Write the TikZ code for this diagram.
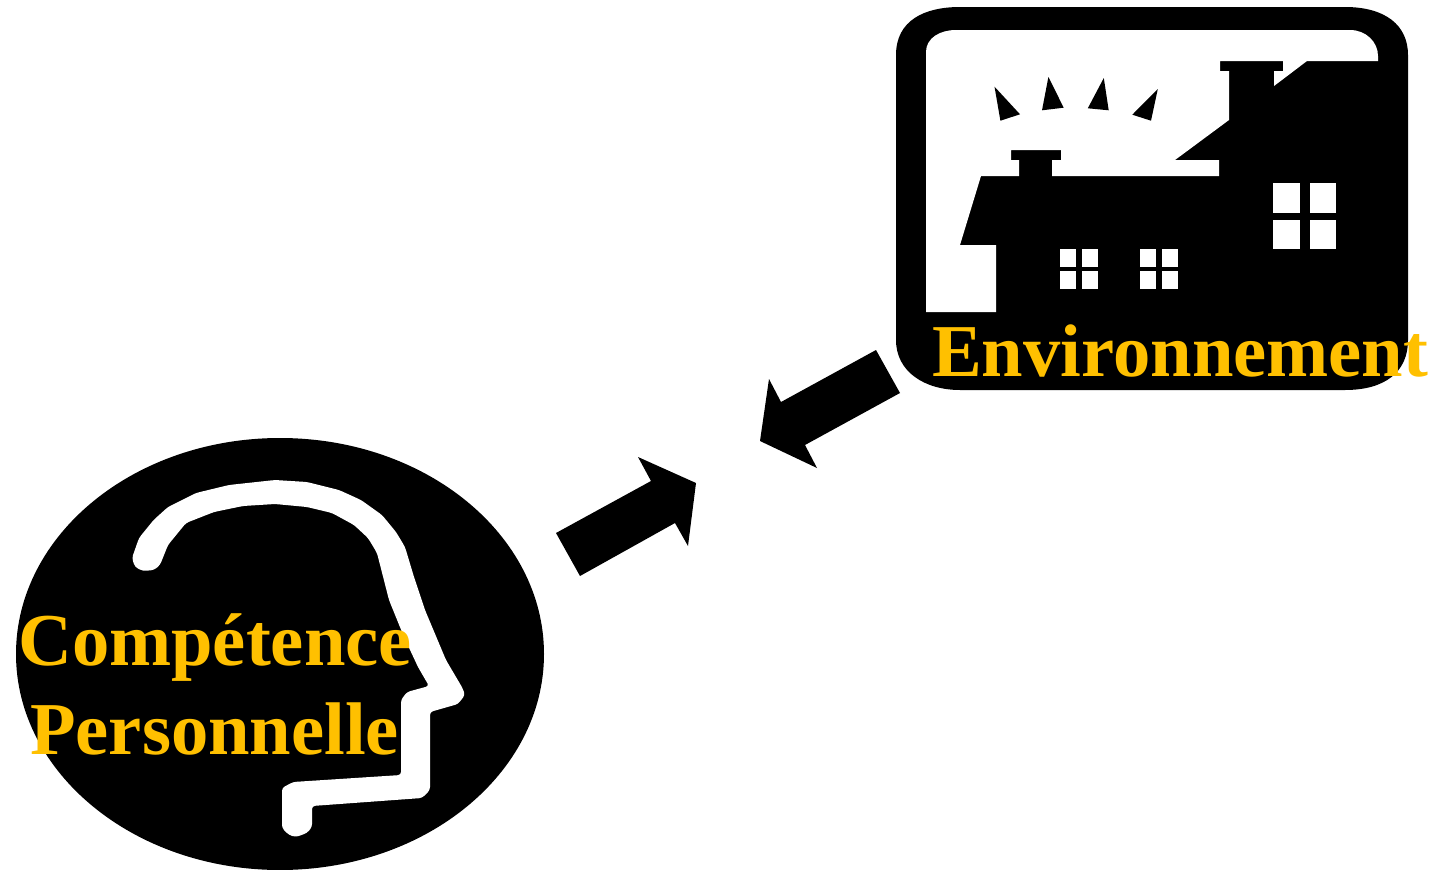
\documentclass[tikz,border=0pt]{standalone}
\usepackage{fontspec}
\setmainfont{Liberation Serif}
\definecolor{labelgold}{HTML}{FFC000}
\tikzset{
  label text/.style={text=labelgold,inner sep=0pt,anchor=base west,font=\bfseries\fontsize{74.6}{74.6}\selectfont},
  solid shape/.style={fill=black,draw=none},
  white shape/.style={fill=white,draw=none}
}
\begin{document}
\begin{tikzpicture}[x=1pt,y=-1pt]
\useasboundingbox (0,0) rectangle (1436,870);
% circle with head
\fill[solid shape] (280,654) ellipse [x radius=264,y radius=216];
\fill[white shape,rounded corners=3pt] (132,558)--(139,538)--(153.6,520)--(168,507)--(196,493)--(229,485)--(275,480)--(307,482)--(339,490)--(361,500)--(382,515)--(396,532)--(405,547)--(414,577)--(425,610)--(446,660)--(462.5,688)--(465,695)--(458,704)--(430,712)--(430,790)--(422,798)--(312,806)--(312,827)--(307,833)--(296,837)--(289,835)--(282,828)--(282,788)--(293,782)--(401,775)--(401,700)--(407,692)--(429,686)--(418,667)--(404,637)--(389,600)--(377,553)--(368,538)--(354,525)--(332,513)--(307,507)--(275,504)--(243,506)--(214,512)--(186,523)--(168,545)--(160,565)--(154,570)--(143,571)--(135,567)--cycle;
% rounded frame
\fill[solid shape] (896,55) .. controls (896,20) and (925,7) .. (960,7) -- (1345,7) .. controls (1385,7) and (1408,25) .. (1408,55) -- (1408,340) .. controls (1408,372) and (1385,390) .. (1345,390) -- (960,390) .. controls (925,390) and (896,372) .. (896,340) -- cycle;
% sky and yard
\fill[white shape] (926,312)--(926,52) .. controls (926,38) and (940,30) .. (956,30) -- (1350,30) .. controls (1366,30) and (1378,42) .. (1378,56) -- (1378,61)--(1307,61)--(1274,86)--(1274,71)--(1283,71)--(1283,61)--(1220,61)--(1220,71)--(1229,71)--(1229,120)--(1175,160)--(1219,160)--(1219,176)--(1052,176)--(1052,160)--(1061,160)--(1061,150)--(1011,150)--(1011,160)--(1019,160)--(1019,176)--(981,176)--(960,245)--(996,245)--(996,312)--cycle;
% rays
\fill[solid shape] (994.5,86.7)--(1020,114.3)--(1000.4,120.7)--cycle;
\fill[solid shape] (1048.4,77)--(1063.7,107.7)--(1042,110.3)--cycle;
\fill[solid shape] (1103.8,78)--(1108.7,110.3)--(1087.8,108.3)--cycle;
\fill[solid shape] (1157.8,89)--(1151,120.7)--(1132.3,114.7)--cycle;
% windows
\foreach \xa/\xb/\ya/\yb in {1273/1300/183/213,1310/1336/183/213,1273/1300/220/249,1310/1336/220/249,
  1060/1076/249/267,1082/1098/249/267,1060/1076/271/289,1082/1098/271/289,
  1140/1156/249/267,1162/1178/249/267,1140/1156/271/289,1162/1178/271/289}
  \fill[white shape] (\xa,\ya) rectangle (\xb,\yb);
% block arrows
\fill[solid shape] (876,350)--(900,393)--(805,445)--(817,468)--(760,441)--(769,379)--(781,402)--cycle;
\fill[solid shape] (556,533)--(580,576)--(675,523)--(688,546)--(696,483)--(638,457)--(651,481)--cycle;
% labels
\node[label text] (env) at (932,376.7) {Environnement};
\node[label text] (comp) at (18,665.7) {Compétence};
\node[label text] (pers) at (30,754) {Personnelle};
\end{tikzpicture}
\end{document}
